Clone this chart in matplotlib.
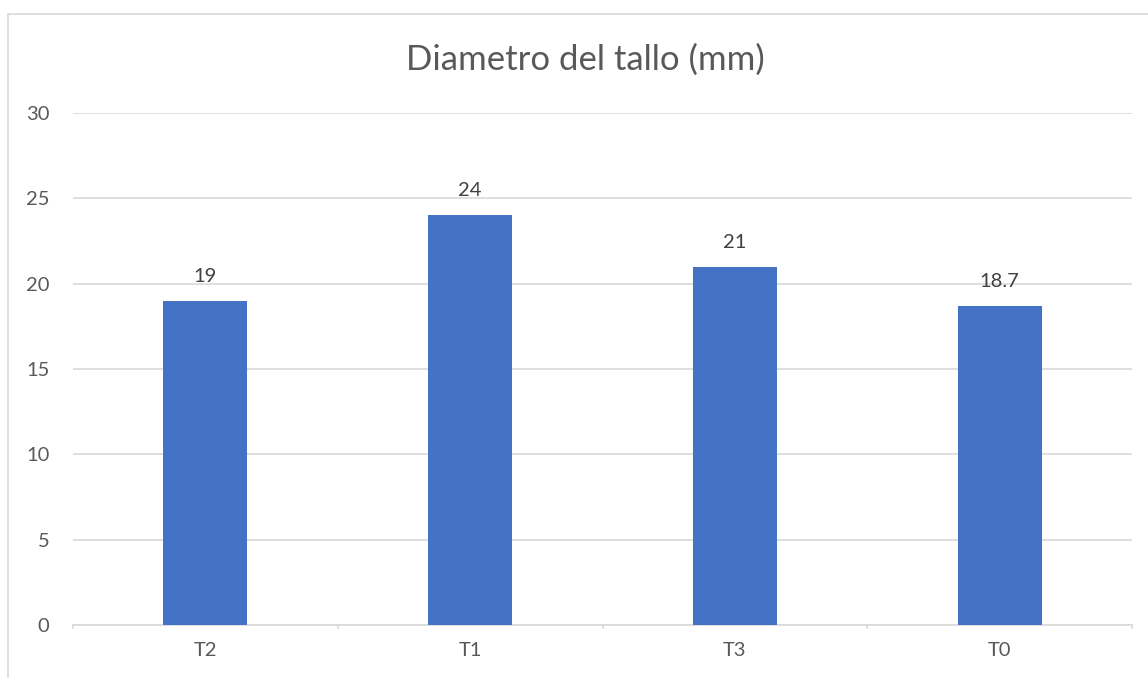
import matplotlib
matplotlib.use("Agg")
import matplotlib.pyplot as plt
from matplotlib.patches import Rectangle

categories = ["T2", "T1", "T3", "T0"]
values = [19, 24, 21, 18.7]
value_labels = ["19", "24", "21", "18.7"]
yticks = [0, 5, 10, 15, 20, 25, 30]

W, H = 1148, 678
plt.rcParams['font.family'] = ['Lato', 'DejaVu Sans']
fig = plt.figure(figsize=(W / 100, H / 100), dpi=100)
fig.patch.set_facecolor("white")

# outer chart border
fig.patches.append(Rectangle((8 / W, -0.1), 1.2, 1 - 14 / H + 0.1,
                             transform=fig.transFigure, fill=False,
                             edgecolor="#d9d9d9", linewidth=1.2))

ax = fig.add_axes([73 / W, 1 - 625 / H, (1132 - 73) / W, (625 - 113) / H])
x = list(range(len(categories)))
ax.bar(x, values, width=0.317, color="#4472c4", zorder=3)
ax.set_xlim(-0.5, len(categories) - 0.5)
ax.set_ylim(0, 30)
ax.set_yticks(yticks)
ax.set_yticklabels([str(t) for t in yticks])
ax.yaxis.grid(True, color="#d9d9d9", linewidth=1.2, zorder=0)
ax.tick_params(axis="y", length=0, pad=17, labelsize=14.5, labelcolor="#595959")
ax.set_xticks(x)
ax.set_xticklabels(categories)
ax.tick_params(axis="x", length=0, pad=12, labelsize=14.5, labelcolor="#595959")
for s in ["top", "right", "left"]:
    ax.spines[s].set_visible(False)
ax.spines["bottom"].set_color("#d9d9d9")
ax.spines["bottom"].set_linewidth(1.2)
# category separator tick marks
for b in [i - 0.5 for i in range(len(categories) + 1)]:
    ax.plot([b, b], [0, -0.2], color="#d9d9d9", linewidth=1.2, clip_on=False,
            transform=ax.transData)
ax.set_facecolor("white")

for xi, v, lab in zip(x, values, value_labels):
    ax.annotate(lab, (xi, v), xytext=(0, 11.5), textcoords="offset points",
                ha="center", va="bottom", fontsize=14.5, color="#404040",
                zorder=4)

fig.text(585 / W, 1 - 60 / H, "Diametro del tallo (mm)", ha="center", va="center",
         fontsize=25, color="#595959")

fig.savefig("out.png", dpi=100)
